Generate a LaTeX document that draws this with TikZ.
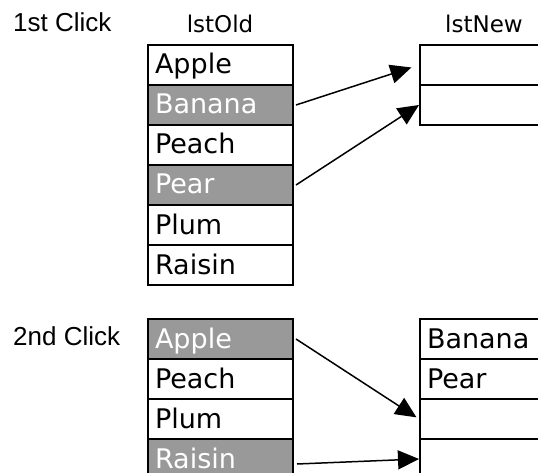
\documentclass[tikz,border=0pt]{standalone}
\usepackage{fontspec}
\setmainfont{DejaVu Sans}
\newfontfamily\clickfont{Liberation Sans}
\usetikzlibrary{arrows.meta}

\definecolor{selgray}{RGB}{153,153,153}

\tikzset{
    cell/.style={draw, line width=2pt, anchor=north west,
        minimum width=145pt, minimum height=40pt,
        text width=131pt, inner xsep=7pt, inner ysep=0pt,
        text height=20pt, text depth=2pt,
        font=\fontsize{27pt}{27pt}\selectfont},
    click/.style={anchor=base west, inner sep=0pt,
        font=\clickfont\fontsize{26pt}{26pt}\selectfont},
    header/.style={anchor=base, inner sep=0pt,
        font=\fontsize{23pt}{23pt}\selectfont},
    move/.style={-{Triangle[length=21pt,width=19pt]}, line width=1.5pt},
}

\begin{document}
\begin{tikzpicture}[x=1pt, y=-1pt]
    \clip (0,0) rectangle (538,473);

    % Labels
    \node[click] (clickA) at (13,32) {1st Click};
    \node[click] (clickB) at (13,345) {2nd Click};
    \node[header] (hdrOld) at (220,33) {lstOld};
    \node[header] (hdrNew) at (484,33) {lstNew};

    % 1st click lists
    \foreach \fruit/\bg/\fg [count=\i] in {Apple/white/black, Banana/selgray/white,
        Peach/white/black, Pear/selgray/white, Plum/white/black, Raisin/white/black} {
        \node[cell, fill=\bg, text=\fg] (oldA\i) at (147,4+40*\i) {\fruit};
    }
    \foreach \i in {1,2} {
        \node[cell] (newA\i) at (419,4+40*\i) {};
    }

    % 2nd click lists
    \foreach \fruit/\bg/\fg [count=\i] in {Apple/selgray/white, Peach/white/black,
        Plum/white/black, Raisin/selgray/white} {
        \node[cell, fill=\bg, text=\fg] (oldB\i) at (147,278+40*\i) {\fruit};
    }
    \foreach \fruit [count=\i] in {Banana,Pear,{},{}} {
        \node[cell] (newB\i) at (419,278+40*\i) {\fruit};
    }

    % Moves
    \draw[move, shorten >=8pt] ([xshift=2pt]oldA2.east) -- (newA1.west);
    \draw[move] ([xshift=2pt]oldA4.east) -- (newA2.west);
    \draw[move, shorten >=3pt] ([xshift=2pt]oldB1.east) -- (newB3.west);
    \draw[move] ([xshift=3pt,yshift=-5pt]oldB4.east) -- (newB4.west);
\end{tikzpicture}
\end{document}
